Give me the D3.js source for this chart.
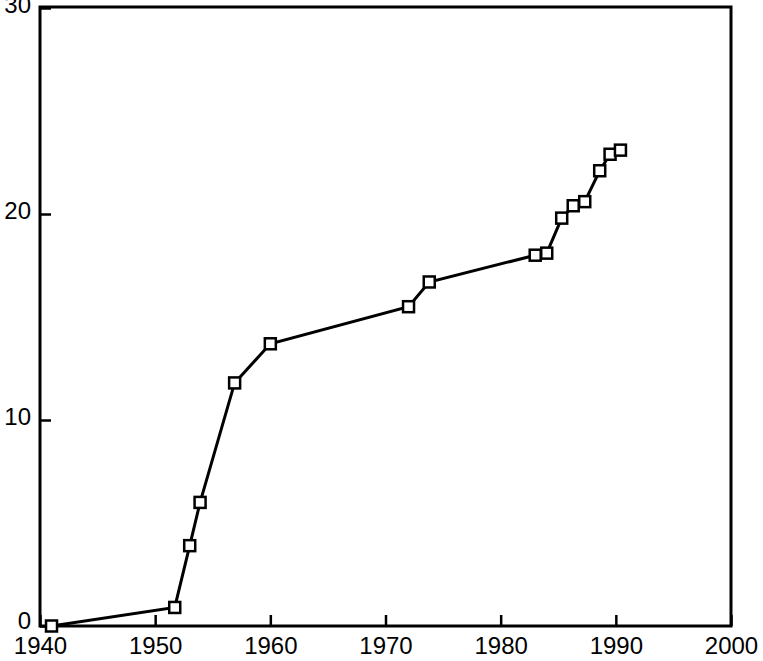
<!DOCTYPE html>
<html>
<head>
<meta charset="utf-8">
<script src="https://cdn.jsdelivr.net/npm/d3@7"></script>
<style>
  body { margin: 0; background: #fff; }
  svg text { font-family: "Liberation Sans", Arial, Helvetica, sans-serif; fill: #000; }
</style>
</head>
<body>
<div id="chart"></div>
<script>
'use strict';

// values
var years  = [1941, 1951.7, 1953, 1953.9, 1956.9, 1960, 1972, 1973.8, 1983, 1984, 1985.3, 1986.3, 1987.3, 1988.6, 1989.5, 1990.4];
var counts = [0, 0.9, 3.9, 6.0, 11.8, 13.7, 15.5, 16.7, 18.0, 18.1, 19.8, 20.4, 20.6, 22.1, 22.9, 23.1];
var xTicks = [1940, 1950, 1960, 1970, 1980, 1990, 2000];
var yTicks = [0, 10, 20, 30];

var width = 763, height = 661;
var margin = {top: 7, right: 32, bottom: 35, left: 40};

var svg = d3.select("#chart").append("svg")
    .attr("width", width)
    .attr("height", height);

var x = d3.scaleLinear()
    .domain([1940, 2000])
    .range([margin.left, width - margin.right]);

var y = d3.scaleLinear()
    .domain([0, 30])
    .range([height - margin.bottom, margin.top + 1]);

var data = years.map(function(d, i) { return {year: d, value: counts[i]}; });

// frame
svg.append("rect")
    .attr("x", x(1940))
    .attr("y", y(30) - 1)
    .attr("width", x(2000) - x(1940))
    .attr("height", y(0) - y(30) + 1)
    .attr("fill", "none")
    .attr("stroke", "#000")
    .attr("stroke-width", 3);

// x axis, ticks pointing inward
var xAxis = svg.append("g")
    .attr("transform", "translate(0," + y(0) + ")")
    .call(d3.axisBottom(x).tickValues(xTicks).tickFormat(d3.format("d"))
        .tickSizeInner(-11).tickSizeOuter(0).tickPadding(11));
xAxis.select(".domain").remove();
xAxis.selectAll(".tick line").attr("stroke", "#000").attr("stroke-width", 2.5);
xAxis.selectAll(".tick text").attr("font-size", 24);

// y axis
var yAxis = svg.append("g")
    .attr("transform", "translate(" + x(1940) + ",0)")
    .call(d3.axisLeft(y).tickValues(yTicks)
        .tickSizeInner(-11).tickSizeOuter(0).tickPadding(9));
yAxis.select(".domain").remove();
yAxis.selectAll(".tick line").attr("stroke", "#000").attr("stroke-width", 2.5);
yAxis.selectAll(".tick text").attr("font-size", 24)
    .attr("dy", function(d) { return d === 0 ? "0.1em" : "0.2em"; });

// line
var line = d3.line()
    .x(function(d) { return x(d.year); })
    .y(function(d) { return y(d.value); });

svg.append("path")
    .datum(data)
    .attr("d", line)
    .attr("fill", "none")
    .attr("stroke", "#000")
    .attr("stroke-width", 3);

// square markers
var s = 11;
svg.selectAll(".pt")
    .data(data)
    .enter().append("rect")
    .attr("class", "pt")
    .attr("x", function(d) { return x(d.year) - s / 2; })
    .attr("y", function(d) { return y(d.value) - s / 2; })
    .attr("width", s)
    .attr("height", s)
    .attr("fill", "#fff")
    .attr("stroke", "#000")
    .attr("stroke-width", 2.5);
</script>
</body>
</html>
